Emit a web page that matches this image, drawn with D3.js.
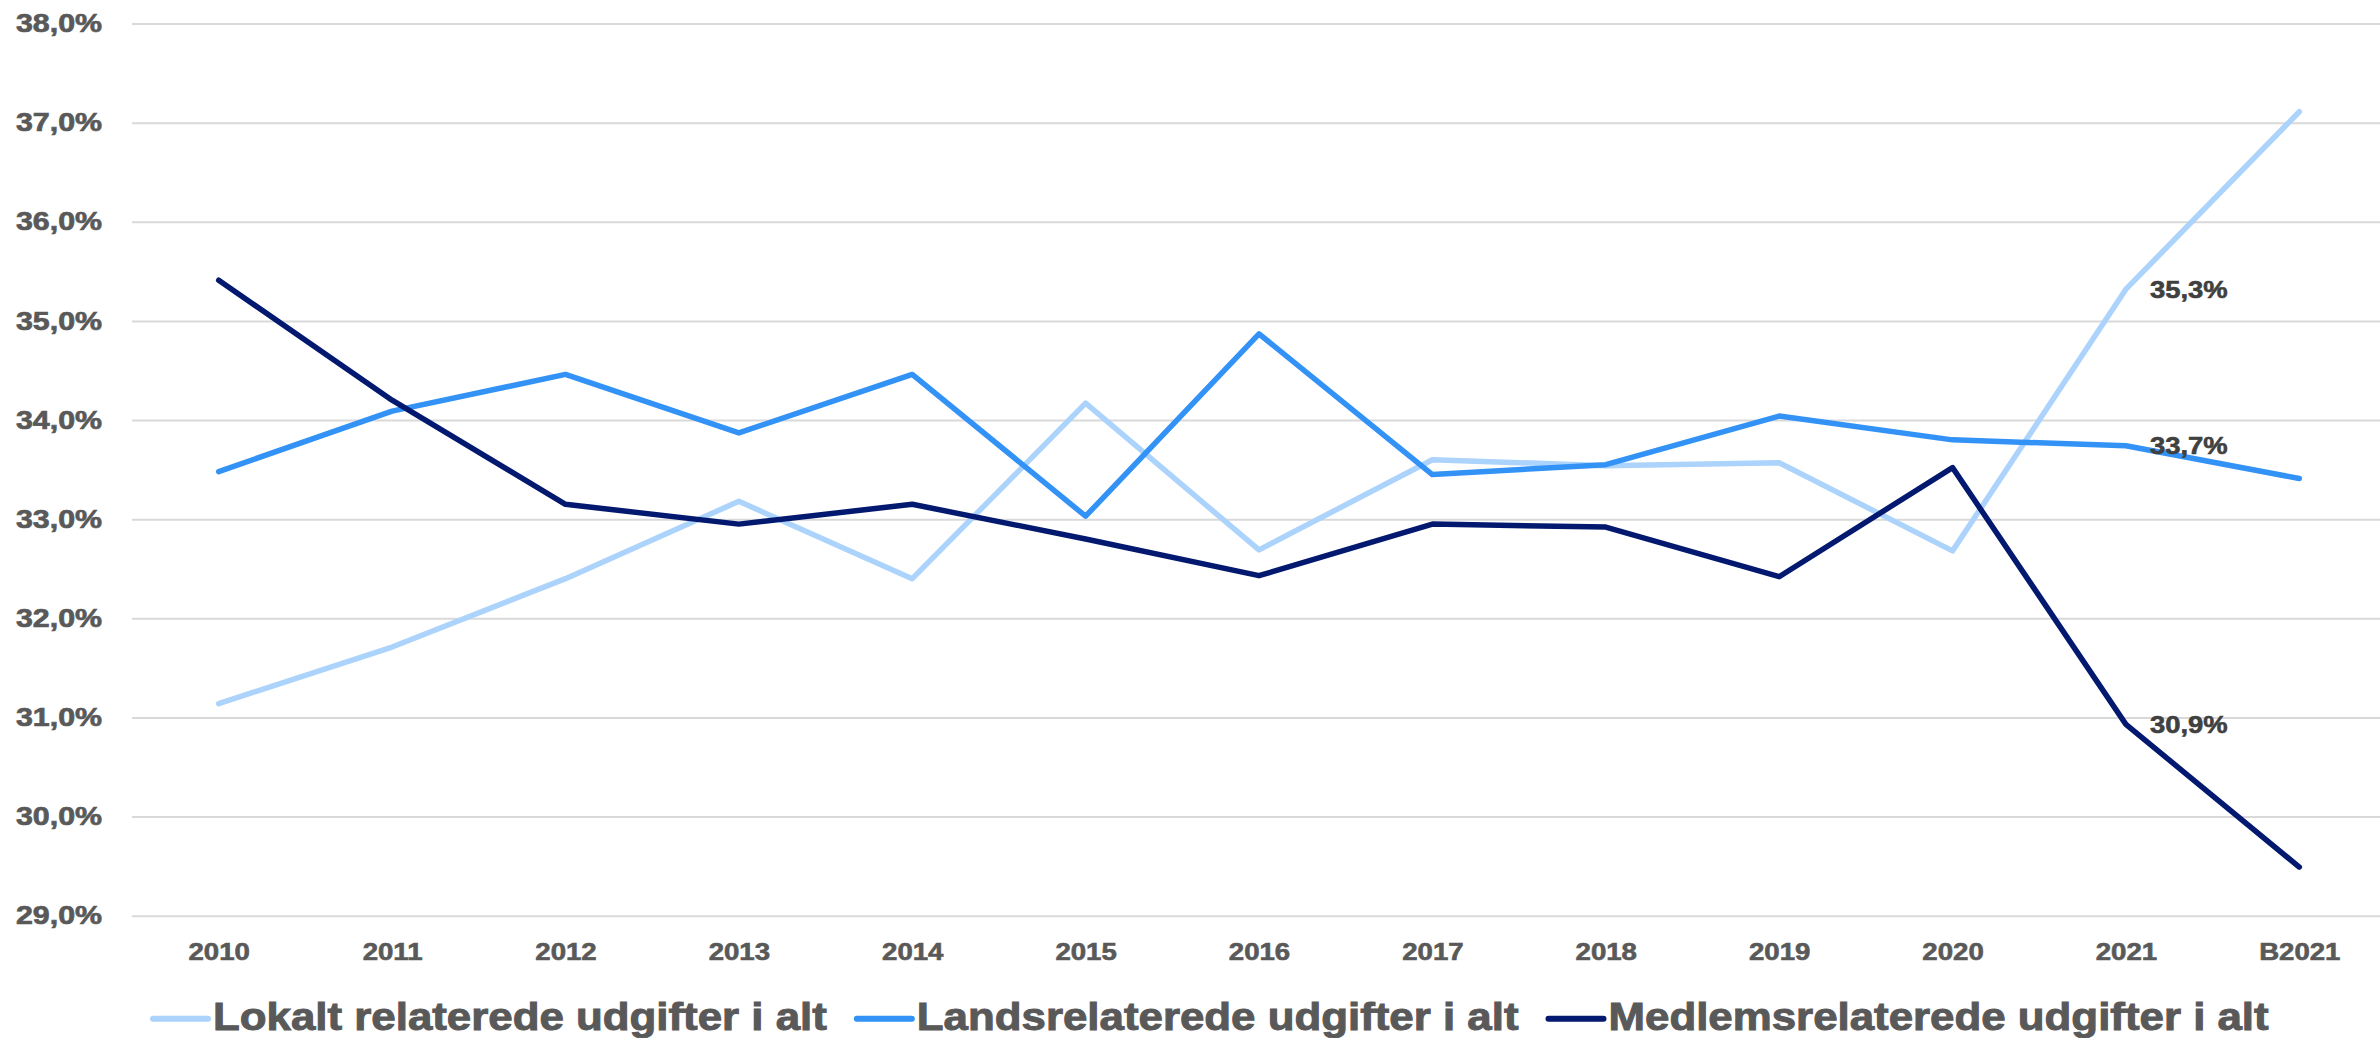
<!DOCTYPE html>
<html>
<head>
<meta charset="utf-8">
<script src="https://cdn.jsdelivr.net/npm/d3@7"></script>
<style>
  body { margin: 0; background: #fff; }
  svg { display: block; font-family: "Liberation Sans", Arial, sans-serif; font-weight: bold; }
</style>
</head>
<body>
<svg id="chart" width="2380" height="1038"></svg>
<script>
/* Daten */
const years = ["2010", "2011", "2012", "2013", "2014", "2015", "2016", "2017", "2018", "2019", "2020", "2021", "B2021"];
const lokalt = [31.14, 31.71, 32.40, 33.18, 32.40, 34.17, 32.69, 33.60, 33.54, 33.57, 32.68, 35.32, 37.11];
const lands = [33.48, 34.09, 34.46, 33.87, 34.46, 33.03, 34.87, 33.45, 33.55, 34.04, 33.80, 33.74, 33.41];
const medlems = [35.41, 34.20, 33.15, 32.95, 33.15, 32.80, 32.43, 32.95, 32.92, 32.42, 33.52, 30.93, 29.49];
const seriesNames = ["Lokalt relaterede udgifter i alt", "Landsrelaterede udgifter i alt", "Medlemsrelaterede udgifter i alt"];
const yTicks = [29, 30, 31, 32, 33, 34, 35, 36, 37, 38];
const labelYear = "2021";

const colors = ["#abd3fb", "#3392f6", "#03186f"];
const textGray = "#595959";

const svg = d3.select("#chart");
const plotLeft = 132, plotRight = 2386, plotTop = 23.5, plotBottom = 915.7;

const locale = d3.formatLocale({ decimal: ",", thousands: ".", grouping: [3], currency: ["", " kr."] });
const pct = v => locale.format(".1f")(v) + "%";

/* Skalen */
const x = d3.scalePoint().domain(years).range([plotLeft, plotRight]).padding(0.5);
const y = d3.scaleLinear().domain([29, 38]).range([plotBottom, plotTop]);

/* Gitter und Y-Achse */
const yAxis = svg.append("g")
  .attr("transform", `translate(${plotLeft},0)`)
  .call(d3.axisLeft(y).tickValues(yTicks).tickSize(-(2380 - plotLeft)).tickFormat(pct));
yAxis.select(".domain").remove();
yAxis.selectAll(".tick line").attr("stroke", "#d9d9d9").attr("stroke-width", 2);
yAxis.selectAll(".tick text")
  .attr("x", 0)
  .attr("transform", "translate(-30,0) scale(1.19,1)")
  .attr("fill", textGray)
  .attr("stroke", textGray)
  .attr("stroke-width", 0.7)
  .style("font-size", "25.5px");

/* X-Achse */
const xAxis = svg.append("g")
  .attr("transform", `translate(0,${plotBottom})`)
  .call(d3.axisBottom(x).tickSize(0));
xAxis.select(".domain").remove();
xAxis.selectAll(".tick text")
  .attr("y", 36)
  .attr("dy", "0.35em")
  .attr("transform", "scale(1.2,1)")
  .attr("fill", textGray)
  .attr("stroke", textGray)
  .attr("stroke-width", 0.6)
  .style("font-size", "23px");

/* Linien */
const allSeries = [lokalt, lands, medlems];
const line = d3.line().x((d, i) => x(years[i])).y(d => y(d));

allSeries.forEach((s, k) => {
  svg.append("path")
    .datum(s)
    .attr("d", line)
    .attr("fill", "none")
    .attr("stroke", colors[k])
    .attr("stroke-width", 5.5)
    .attr("stroke-linejoin", "round")
    .attr("stroke-linecap", "round");
});

/* Datenbeschriftungen für 2021 */
const li = years.indexOf(labelYear);
allSeries.forEach(s => {
  const px = x(labelYear) + 24, py = y(s[li]);
  svg.append("text")
    .attr("transform", `translate(${px},${py}) scale(1.11,1)`)
    .attr("dy", "0.35em")
    .attr("fill", "#404040")
    .attr("stroke", "#404040")
    .attr("stroke-width", 0.6)
    .style("font-size", "24.7px")
    .text(pct(s[li]));
});

/* Legende */
const legend = svg.append("g");
let lx = 153;
const ly = 1018.7;
seriesNames.forEach((name, k) => {
  legend.append("line")
    .attr("x1", lx).attr("x2", lx + 55)
    .attr("y1", ly).attr("y2", ly)
    .attr("stroke", colors[k])
    .attr("stroke-width", 6)
    .attr("stroke-linecap", "round");
  const t = legend.append("text")
    .attr("transform", `translate(${lx + 60},1030) scale(1.11,1)`)
    .attr("fill", textGray)
    .attr("stroke", textGray)
    .attr("stroke-width", 1)
    .style("font-size", "39.5px")
    .text(name);
  lx += 60 + t.node().getComputedTextLength() * 1.11 + 30;
});
</script>
</body>
</html>
